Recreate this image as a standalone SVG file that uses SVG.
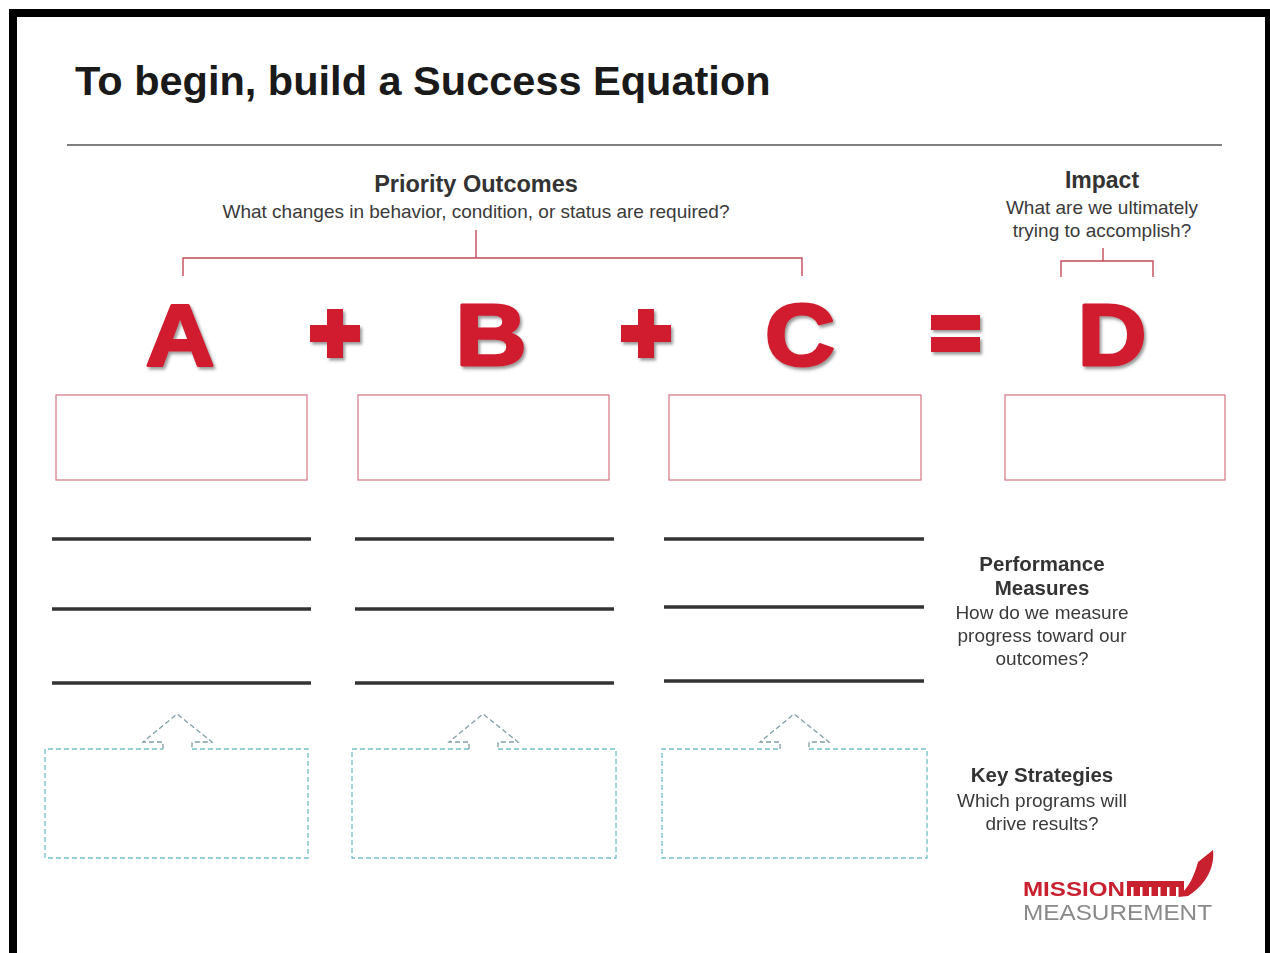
<svg xmlns="http://www.w3.org/2000/svg" width="1270" height="953" viewBox="0 0 1270 953">
<defs>
<style>
.sans{font-family:"Liberation Sans",Arial,sans-serif}
.title{font-family:"Liberation Sans",Arial,sans-serif;font-weight:bold;font-size:41.5px;fill:#1a1a1a}
.head{font-family:"Liberation Sans",Arial,sans-serif;font-weight:bold;font-size:23.5px;fill:#333}
.sub{font-family:"Liberation Sans",Arial,sans-serif;font-size:19px;fill:#3a3a3a}
.big{font-family:"Liberation Sans",Arial,sans-serif;font-weight:bold;font-size:88px;fill:#d01c2e;stroke:#d01c2e;stroke-width:3;stroke-linejoin:round}
.op{fill:#d01c2e}
.redbox{fill:#fff;stroke:#d57583;stroke-width:1.2}
.rule{stroke:#333;stroke-width:3.5}
.dbox{fill:none;stroke:#74bfcc;stroke-width:1.3;stroke-dasharray:5 3}
.darrow{fill:none;stroke:#7f9ea6;stroke-width:1.3;stroke-dasharray:5 3}
.bracket{fill:none;stroke:#c44a5a;stroke-width:1.4}
</style>
<filter id="sh" x="-20%" y="-20%" width="150%" height="150%">
<feDropShadow dx="2" dy="2.5" stdDeviation="1.5" flood-color="#444" flood-opacity="0.55"/>
</filter>
</defs>
<rect x="0" y="0" width="1270" height="953" fill="#fff"/>
<g id="frame" fill="#000">
<rect x="9" y="9" width="1261" height="8"/>
<rect x="9" y="9" width="8" height="944"/>
<rect x="1265" y="9" width="5" height="944"/>
</g>
<g id="title">
<text class="title" x="75" y="95">To begin, build a Success Equation</text>
<line x1="67" y1="145" x2="1222" y2="145" stroke="#555" stroke-width="1.5"/>
</g>
<g id="priority-outcomes" text-anchor="middle">
<text class="head" x="476" y="192">Priority Outcomes</text>
<text class="sub" x="476" y="218">What changes in behavior, condition, or status are required?</text>
</g>
<g id="impact" text-anchor="middle">
<text class="head" x="1102" y="188" style="font-size:23px">Impact</text>
<text class="sub" x="1102" y="214">What are we ultimately</text>
<text class="sub" x="1102" y="237">trying to accomplish?</text>
</g>
<g id="connectors">
<path class="bracket" d="M476,230 V258 M183,276 V258 H802 V276"/>
<path class="bracket" d="M1103,248 V261 M1061,277 V261 H1153 V277"/>
</g>
<g id="equation" filter="url(#sh)">
<text class="big" text-anchor="middle" transform="translate(180,365) scale(1.08,1)">A</text>
<g id="plus1" class="op"><rect x="310" y="325" width="50" height="17"/><rect x="327" y="309" width="16" height="49"/></g>
<text class="big" text-anchor="middle" transform="translate(491,365) scale(1.12,1)">B</text>
<g id="plus2" class="op"><rect x="621" y="325" width="50" height="17"/><rect x="638" y="309" width="16" height="49"/></g>
<text class="big" text-anchor="middle" transform="translate(800,365) scale(1.1,1)">C</text>
<g id="equals" class="op"><rect x="931" y="315" width="49" height="15"/><rect x="931" y="337" width="49" height="15"/></g>
<text class="big" text-anchor="middle" transform="translate(1112,365) scale(1.08,1)">D</text>
</g>
<g id="box-a"><rect class="redbox" x="56" y="395" width="251" height="85"/></g>
<g id="box-b"><rect class="redbox" x="358" y="395" width="251" height="85"/></g>
<g id="box-c"><rect class="redbox" x="669" y="395" width="252" height="85"/></g>
<g id="box-d"><rect class="redbox" x="1005" y="395" width="220" height="85"/></g>
<g id="measures-a"><line class="rule" x1="52" y1="539" x2="311" y2="539"/><line class="rule" x1="52" y1="609" x2="311" y2="609"/><line class="rule" x1="52" y1="683" x2="311" y2="683"/></g>
<g id="measures-b"><line class="rule" x1="355" y1="539" x2="614" y2="539"/><line class="rule" x1="355" y1="609" x2="614" y2="609"/><line class="rule" x1="355" y1="683" x2="614" y2="683"/></g>
<g id="measures-c"><line class="rule" x1="664" y1="539" x2="924" y2="539"/><line class="rule" x1="664" y1="607" x2="924" y2="607"/><line class="rule" x1="664" y1="681" x2="924" y2="681"/></g>
<g id="strategy-a">
<path class="dbox" d="M192,749 H308 V858 H45 V749 H163"/>
<path class="darrow" d="M163,749 V742 H143 L177,714 L212,742 H192 V749"/>
</g>
<g id="strategy-b">
<path class="dbox" d="M498,749 H616 V858 H352 V749 H469"/>
<path class="darrow" d="M469,749 V742 H449 L483,714 L518,742 H498 V749"/>
</g>
<g id="strategy-c">
<path class="dbox" d="M809,749 H927 V858 H662 V749 H780"/>
<path class="darrow" d="M780,749 V742 H760 L794,714 L829,742 H809 V749"/>
</g>
<g id="performance-measures" text-anchor="middle">
<text class="head" x="1042" y="571" style="font-size:20.5px">Performance</text>
<text class="head" x="1042" y="595" style="font-size:20.5px">Measures</text>
<text class="sub" x="1042" y="619">How do we measure</text>
<text class="sub" x="1042" y="642">progress toward our</text>
<text class="sub" x="1042" y="665">outcomes?</text>
</g>
<g id="key-strategies" text-anchor="middle">
<text class="head" x="1042" y="782" style="font-size:20.5px">Key Strategies</text>
<text class="sub" x="1042" y="807">Which programs will</text>
<text class="sub" x="1042" y="830">drive results?</text>
</g>
<g id="logo">
<text class="sans" x="1023" y="896" font-weight="bold" font-size="21" fill="#c8202f" textLength="102" lengthAdjust="spacingAndGlyphs">MISSION</text>
<rect x="1127" y="881" width="57" height="15" fill="#c8202f"/>
<g fill="#fff">
<rect x="1131" y="887" width="2.5" height="9"/><rect x="1140" y="887" width="2.5" height="9"/><rect x="1149" y="887" width="2.5" height="9"/><rect x="1158" y="887" width="2.5" height="9"/><rect x="1167" y="887" width="2.5" height="9"/><rect x="1176" y="887" width="2.5" height="9"/>
</g>
<path d="M1178,897 C1190,887 1195,873 1198,862 L1213,850 C1215,866 1207,884 1188,896 Z" fill="#c8202f"/>
<text class="sans" x="1023" y="920" font-size="22" fill="#8a8a8a" textLength="189" lengthAdjust="spacingAndGlyphs">MEASUREMENT</text>
</g>
</svg>
